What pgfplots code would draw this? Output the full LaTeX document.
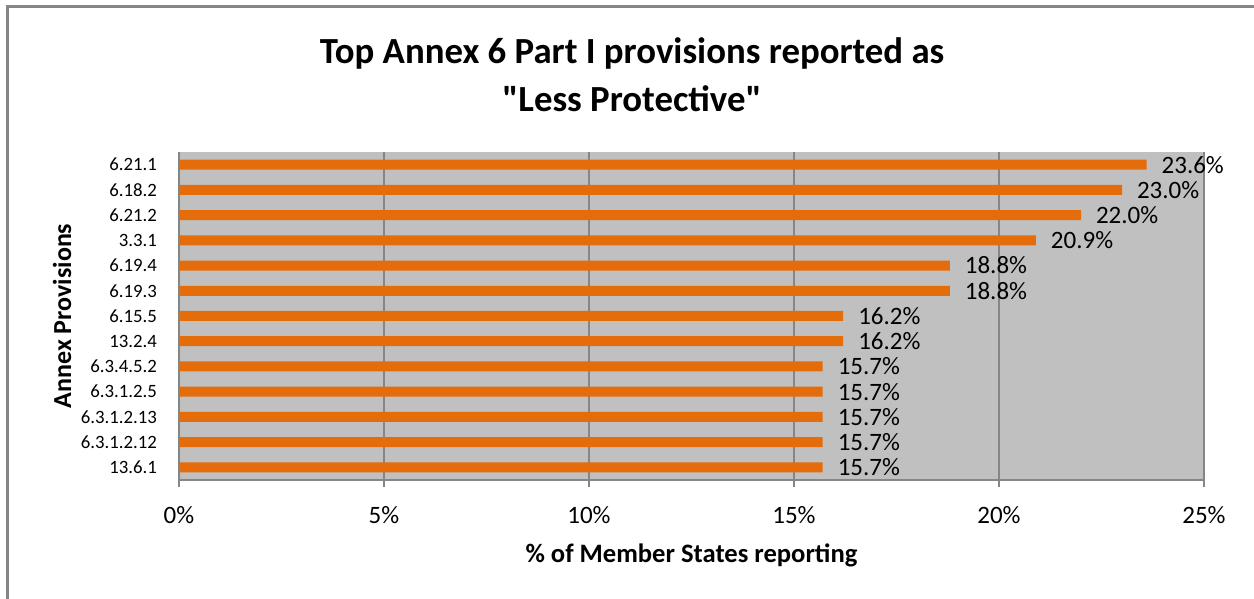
\documentclass[border=0pt]{standalone}
\usepackage{pgfplots}
\pgfplotsset{compat=1.18}
\usepackage{fontspec}
\setmainfont{Carlito}
\definecolor{bargc}{HTML}{E46C0A}
\definecolor{bgc}{HTML}{C0C0C0}
\definecolor{linec}{HTML}{868686}
\begin{document}
\begin{tikzpicture}
\path[use as bounding box] (0,0) rectangle (627pt,299.5pt);
\draw[linec, line width=1.5pt] (3.5pt,0) -- (3.5pt,296pt) -- (627pt,296pt);
\begin{axis}[
  at={(89.5pt,59.5pt)}, anchor=south west,
  scale only axis, width=512.5pt, height=164pt,
  /pgf/number format/assume math mode=true,
  xbar, bar width=5pt,
  xmin=0, xmax=25, ymin=-0.5, ymax=12.5,
  axis background/.style={fill=bgc},
  axis x line*=bottom, axis y line*=left,
  axis line style={-, linec, line width=1pt},
  xtick={0,5,10,15,20,25},
  xticklabels={0\%,5\%,10\%,15\%,20\%,25\%},
  xtick style={linec, line width=1pt}, tick align=outside, major tick length=3.5pt,
  ytick={0,...,12},
  yticklabels={13.6.1,6.3.1.2.12,6.3.1.2.13,6.3.1.2.5,6.3.4.5.2,13.2.4,6.15.5,6.19.3,6.19.4,3.3.1,6.21.2,6.18.2,6.21.1},
  ytick style={draw=none},
  xmajorgrids, grid style={linec, line width=1pt},
  xticklabel style={font=\fontsize{12.5}{15}\selectfont, yshift=-6pt},
  yticklabel style={font=\fontsize{9.4}{11}\selectfont, xshift=-4pt},
  xlabel={\% of Member States reporting},
  ylabel={Annex Provisions},
  xlabel style={font=\fontsize{13.3}{16}\selectfont\bfseries, at={(axis description cs:0.5,0)}, anchor=center, yshift=-37.5pt},
  ylabel style={font=\fontsize{13}{16}\selectfont\bfseries, at={(axis description cs:-0.1141,0.5)}, anchor=center},
  title={Top Annex 6 Part I provisions reported as\\\textquotedbl Less Protective\textquotedbl},
  title style={font=\fontsize{18.4}{24}\selectfont\bfseries, align=center, at={(axis description cs:0.442,1)}, anchor=center, yshift=32.5pt},
  nodes near coords={\pgfmathprintnumber[fixed,fixed zerofill,precision=1]{\pgfplotspointmeta}\%},
  point meta=x,
  every node near coord/.append style={font=\fontsize{12.5}{15}\selectfont, anchor=west, xshift=4pt, black},
]
\addplot[fill=bargc, draw=none] coordinates {
(15.7,0) (15.7,1) (15.7,2) (15.7,3) (15.7,4) (16.2,5) (16.2,6) (18.8,7) (18.8,8) (20.9,9) (22.0,10) (23.0,11) (23.6,12)
};
\end{axis}
\end{tikzpicture}
\end{document}
